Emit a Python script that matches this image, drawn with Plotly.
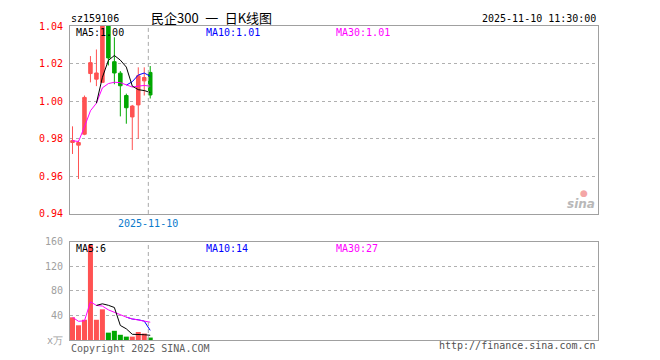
import plotly.graph_objects as go
import numpy as np

# ---------------- data ----------------
dates = ["2025-10-22", "2025-10-23", "2025-10-24", "2025-10-27", "2025-10-28",
         "2025-10-29", "2025-10-30", "2025-10-31", "2025-11-03", "2025-11-04",
         "2025-11-05", "2025-11-06", "2025-11-07", "2025-11-10"]
opens  = [0.978, 0.9766, 0.9824, 1.0147, 1.0117, 1.010, 1.045, 1.021, 1.0149, 1.003, 0.9916, 0.998, 1.0108, 1.0153]
highs  = [0.9866, 0.979, 1.003, 1.024, 1.0275, 1.050, 1.050, 1.034, 1.016, 1.004, 0.998, 1.018, 1.018, 1.0187]
lows   = [0.9719, 0.9586, 0.9819, 1.010, 1.008, 1.010, 1.019, 1.009, 0.9919, 0.988, 0.974, 0.980, 1.003, 1.0014]
closes = [0.979, 0.978, 1.002, 1.0205, 1.015, 1.048, 1.023, 1.015, 1.0082, 0.9965, 0.9974, 1.0135, 1.0126, 1.0033]
volumes = [37, 24, 33, 155, 33, 50, 12, 15, 8.5, 5.5, 5.5, 13, 10.5, 4]   # 万

price_ticks = [0.94, 0.96, 0.98, 1.00, 1.02, 1.04]
vol_ticks = [0, 40, 80, 120, 160]
vol_tick_text = ["x万", "40", "80", "120", "160"]

code_label = "sz159106"
title_label = "民企300 一 日K线图"
time_label = "2025-11-10 11:30:00"
price_ma_labels = ["MA5:1.00", "MA10:1.01", "MA30:1.01"]
vol_ma_labels = ["MA5:6", "MA10:14", "MA30:27"]
marker_date = "2025-11-10"

# ---------------- helpers ----------------
RED = "#FF5252"
GREEN = "#00A800"
MA_COLORS = ["#000000", "#0000FF", "#FF00FF"]


def moving_avg(vals, n, expanding=False):
    out = []
    for i in range(len(vals)):
        if i + 1 < n:
            out.append(float(np.mean(vals[:i + 1])) if expanding else None)
        else:
            out.append(float(np.mean(vals[i + 1 - n:i + 1])))
    return out


idx = list(range(len(dates)))
bar_colors = [RED if c >= o else GREEN for o, c in zip(opens, closes)]

fig = go.Figure()

fig.add_trace(go.Candlestick(
    x=idx, open=opens, high=highs, low=lows, close=closes,
    increasing=dict(line=dict(color=RED, width=1), fillcolor=RED),
    decreasing=dict(line=dict(color=GREEN, width=1), fillcolor=GREEN),
    whiskerwidth=0, xaxis="x", yaxis="y", showlegend=False, hoverinfo="skip"))

# price MAs (draw MA10, MA30, then MA5 on top)
for n, col, exp in [(10, MA_COLORS[1], False), (30, MA_COLORS[2], True), (5, MA_COLORS[0], False)]:
    fig.add_trace(go.Scatter(x=idx, y=moving_avg(closes, n, exp), mode="lines",
                             line=dict(color=col, width=1), xaxis="x", yaxis="y",
                             showlegend=False, hoverinfo="skip"))

fig.add_trace(go.Bar(x=idx, y=volumes, marker=dict(color=bar_colors, line=dict(width=0)),
                     width=0.84, xaxis="x2", yaxis="y2", showlegend=False, hoverinfo="skip"))
for n, col, exp in [(10, MA_COLORS[1], False), (30, MA_COLORS[2], True), (5, MA_COLORS[0], False)]:
    fig.add_trace(go.Scatter(x=idx, y=moving_avg(volumes, n, exp), mode="lines",
                             line=dict(color=col, width=1), xaxis="x2", yaxis="y2",
                             showlegend=False, hoverinfo="skip"))

# the page body has an 8px margin, so the figure is laid out in page coords minus 8
OFF = 8
W, H = 652, 352
PLOT_X0, PLOT_X1 = 70, 598      # page coords of plot area
PLOT_Y0, PLOT_Y1 = 20, 340
L = PLOT_X0 - OFF
R = W - (PLOT_X1 - OFF)
T = PLOT_Y0 - OFF
B = H - (PLOT_Y1 - OFF)
PW, PH = PLOT_X1 - PLOT_X0, PLOT_Y1 - PLOT_Y0


def px(x):
    return (x - PLOT_X0) / PW


def py(y):
    return (PLOT_Y1 - y) / PH


xr = [-0.42, 87.9]
mono = "DejaVu Sans Mono"
axis_common = dict(showline=True, linecolor="#A0A0A0", linewidth=1, mirror=True,
                   zeroline=False)

fig.update_layout(
    width=W, height=H, margin=dict(l=L, r=R, t=T, b=B),
    paper_bgcolor="white", plot_bgcolor="white",
    boxgap=0.16,
    xaxis=dict(domain=[0, 1], range=xr, showticklabels=False, showgrid=False, ticks="",
               rangeslider=dict(visible=False), anchor="y", **axis_common),
    yaxis=dict(domain=[py(211.5), 1], range=[0.94, 1.04], tickvals=price_ticks,
               tickformat=".2f", tickfont=dict(family=mono, size=10, color="#FF0000"),
               showgrid=True, gridcolor="#B0B0B0", griddash="dot", gridwidth=1,
               ticks="", ticklabelstandoff=4, anchor="x", **axis_common),
    xaxis2=dict(domain=[0, 1], range=xr, showticklabels=False, showgrid=False, ticks="",
                anchor="y2", **axis_common),
    yaxis2=dict(domain=[0, py(240)], range=[0, 160], tickvals=vol_ticks, ticktext=vol_tick_text,
                tickfont=dict(family=mono, size=10, color="#A0A0A0"),
                showgrid=True, gridcolor="#B0B0B0", griddash="dot", gridwidth=1,
                ticks="", ticklabelstandoff=4, anchor="x2", **axis_common),
)

# dashed day marker
mark_x = len(dates) - 1 - 0.32
for xref, yref in [("x", "y domain"), ("x2", "y2 domain")]:
    fig.add_shape(type="line", xref=xref, yref=yref, x0=mark_x, x1=mark_x, y0=0, y1=1,
                  line=dict(color="#A8A8A8", width=1, dash="4px,3px"), layer="above")

ann = []


def text(t, x, y, xanchor="left", color="#000000", size=10, family=mono, **kw):
    ann.append(dict(text=t, x=px(x), y=py(y), xref="paper", yref="paper",
                    xanchor=xanchor, yanchor="middle", showarrow=False,
                    font=dict(family=family, size=size, color=color), **kw))


text(code_label, 69, 12.5)
text(title_label.replace(" ", "\u2002"), 149, 11.5, family="Noto Sans CJK SC", size=13)
text(time_label, 598, 12.5, xanchor="right")
for lab, x, col in zip(price_ma_labels, [74, 204, 334], MA_COLORS):
    text(lab, x, 26.5, color=col)
for lab, x, col in zip(vol_ma_labels, [74, 204, 334], MA_COLORS):
    text(lab, x, 246.5, color=col)
text(marker_date, 147.7, 221, xanchor="center", color="#0A7ACC")
text("Copyright 2025 SINA.COM", 69, 348.5, color="#606060")
text("http://finance.sina.com.cn", 598, 345.5, xanchor="right", color="#505050")
text("<b><i>sina</i></b>", 581, 201, xanchor="center", color="#B8B8B8", size=12,
     family="DejaVu Sans")
ann.append(dict(text="●", x=px(584), y=py(190), xref="paper", yref="paper",
                xanchor="center", yanchor="middle", showarrow=False,
                font=dict(family="DejaVu Sans", size=9, color="#F4A6A6")))
fig.update_layout(annotations=ann)

fig.write_html("out.html")
